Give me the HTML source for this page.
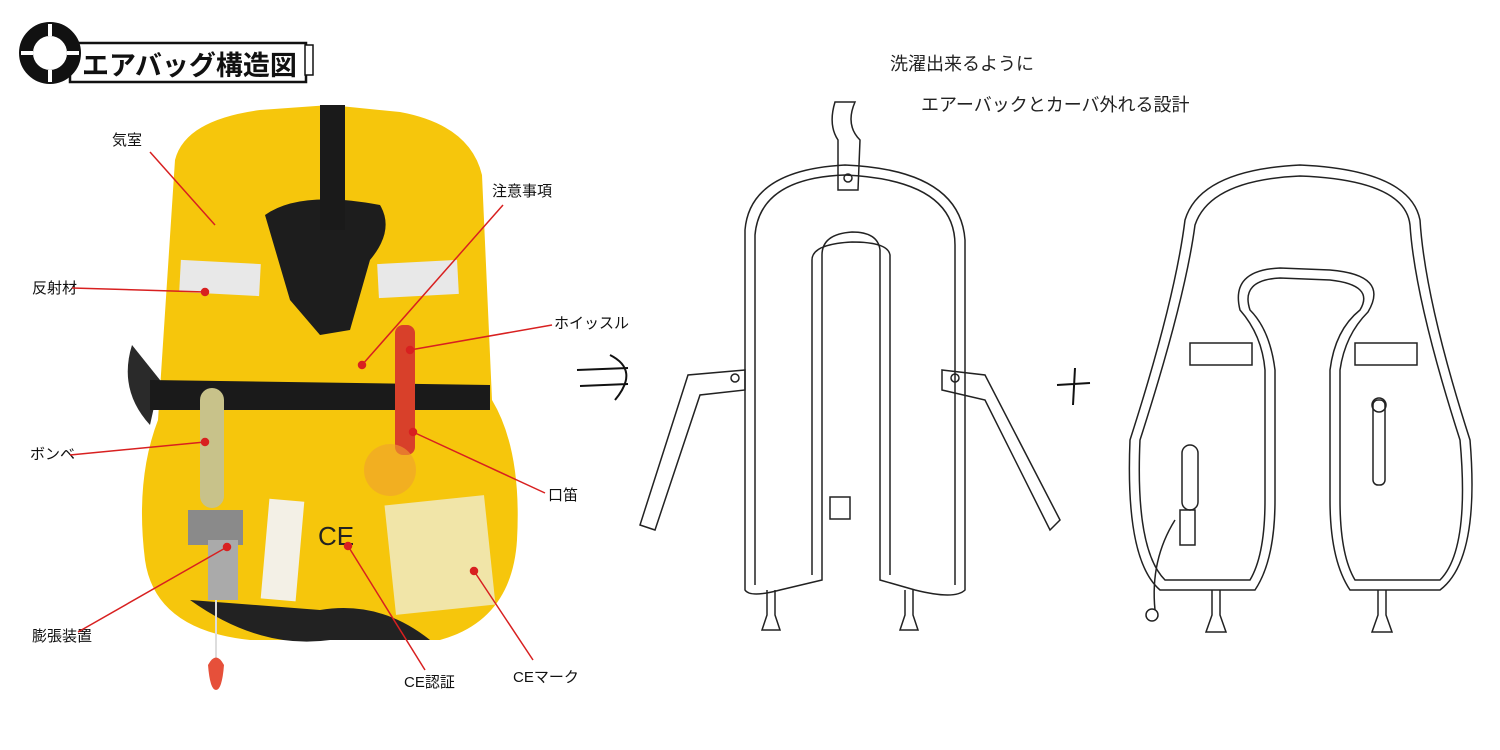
<!DOCTYPE html>
<html><head><meta charset="utf-8"><style>
html,body{margin:0;padding:0;background:#fff;}
svg{display:block}
text{font-family:"Liberation Sans","Noto Sans CJK JP",sans-serif;}
</style></head><body>
<svg width="1500" height="750" viewBox="0 0 1500 750" xmlns="http://www.w3.org/2000/svg">
<rect x="70" y="43" width="236" height="39" fill="#fff" stroke="#111" stroke-width="2.5"/>
<circle cx="50" cy="53" r="24" fill="none" stroke="#111" stroke-width="14"/>
<g stroke="#fff" stroke-width="4"><line x1="50" y1="24" x2="50" y2="36"/><line x1="50" y1="70" x2="50" y2="82"/><line x1="21" y1="53" x2="33" y2="53"/><line x1="67" y1="53" x2="79" y2="53"/></g>
<rect x="305" y="45" width="8" height="30" fill="#fff" stroke="#111" stroke-width="1.5"/>
<text x="82" y="75" font-size="27" font-weight="bold" fill="#111" font-family="'Noto Serif CJK SC','Noto Sans CJK JP',serif">エアバッグ構造図</text>

<path d="M175 160 Q185 120 260 110 L330 105 L400 112 Q470 125 482 175 L492 400 Q522 450 517 540 Q512 620 440 640 L250 640 Q155 630 145 560 Q135 480 158 420 Z" fill="#f6c60c"/>
<path d="M265 215 Q300 190 380 205 Q395 230 370 260 L350 330 L320 335 L290 300 Z" fill="#1d1d1d"/>
<path d="M320 105 L345 105 L345 230 L320 230 Z" fill="#1a1a1a"/>
<path d="M132 345 Q118 390 150 425 L160 380 Z" fill="#2a2a2a"/>
<path d="M150 380 L490 385 L490 410 L150 410 Z" fill="#1a1a1a"/>
<path d="M190 600 Q260 650 330 640 L430 640 Q380 600 320 610 Z" fill="#222"/>
<rect x="180" y="262" width="80" height="32" fill="#e8e8e8" transform="rotate(3 220 278)"/>
<rect x="378" y="262" width="80" height="34" fill="#e8e8e8" transform="rotate(-3 418 279)"/>
<rect x="200" y="388" width="24" height="120" rx="12" fill="#c8c28a"/>
<rect x="395" y="325" width="20" height="130" rx="8" fill="#d8402a"/>
<circle cx="390" cy="470" r="26" fill="#f0a030" opacity="0.6"/>
<rect x="188" y="510" width="55" height="35" fill="#8a8a8a"/>
<rect x="208" y="540" width="30" height="60" fill="#aaa"/>
<rect x="265" y="500" width="35" height="100" fill="#f3f0e6" transform="rotate(5 282 550)"/>
<rect x="390" y="500" width="100" height="110" fill="#f1e5a8" transform="rotate(-6 440 555)"/>
<line x1="216" y1="600" x2="216" y2="665" stroke="#ddd" stroke-width="2"/>
<path d="M208 665 Q216 650 224 665 Q222 690 216 690 Q210 690 208 665 Z" fill="#e6503a"/>
<text x="318" y="545" font-size="26" fill="#222">CE</text>

<g font-size="15" fill="#111">
<text x="112" y="145">気室</text>
<text x="32" y="293">反射材</text>
<text x="30" y="459">ボンベ</text>
<text x="32" y="641">膨張装置</text>
<text x="492" y="196">注意事項</text>
<text x="554" y="328">ホイッスル</text>
<text x="548" y="500">口笛</text>
<text x="404" y="687">CE認証</text>
<text x="513" y="682">CEマーク</text>
</g>
<g stroke="#d82020" stroke-width="1.5" fill="#d82020">
<line x1="150" y1="152" x2="215" y2="225"/>
<line x1="72" y1="288" x2="205" y2="292"/><circle cx="205" cy="292" r="3.5"/>
<line x1="70" y1="455" x2="205" y2="442"/><circle cx="205" cy="442" r="3.5"/>
<line x1="78" y1="632" x2="227" y2="547"/><circle cx="227" cy="547" r="3.5"/>
<line x1="503" y1="205" x2="362" y2="365"/><circle cx="362" cy="365" r="3.5"/>
<line x1="552" y1="325" x2="410" y2="350"/><circle cx="410" cy="350" r="3.5"/>
<line x1="545" y1="493" x2="413" y2="432"/><circle cx="413" cy="432" r="3.5"/>
<line x1="425" y1="670" x2="348" y2="546"/><circle cx="348" cy="546" r="3.5"/>
<line x1="533" y1="660" x2="474" y2="571"/><circle cx="474" cy="571" r="3.5"/>
</g>

<g stroke="#111" stroke-width="2" fill="none">
<path d="M577 370 L628 368 M580 386 L628 384 M610 355 Q640 370 615 400"/>
<path d="M1057 385 L1090 383 M1075 368 L1073 405"/>
</g>
<g font-size="18" fill="#222" font-family="'Noto Serif CJK SC','Noto Serif CJK JP',serif">
<text x="890" y="70">洗濯出来るように</text>
<text x="921" y="111">エアーバックとカーバ外れる設計</text>
</g>

<g stroke="#222" stroke-width="1.5" fill="none">
<path d="M835 102 L855 102 Q845 125 860 140 L858 190 L838 190 L838 140 Q828 125 835 102 Z"/>
<circle cx="848" cy="178" r="4"/>
<path d="M745 590 L745 230 Q750 170 845 165 Q960 170 965 240 L965 590 Q955 600 915 590 L880 580 L880 250 Q878 232 852 232 Q822 234 822 255 L822 580 L780 590 Q750 598 745 590 Z"/>
<path d="M755 585 L755 235 Q760 178 845 175 Q955 180 955 245 L955 585 M890 575 L890 255 Q888 242 852 242 Q812 244 812 260 L812 575"/>
<path d="M745 370 L688 375 L640 525 L655 530 L700 395 L745 390 Z"/><circle cx="735" cy="378" r="4"/>
<path d="M942 370 L985 375 L1060 520 L1050 530 L985 400 L942 390 Z"/><circle cx="955" cy="378" r="4"/>
<rect x="830" y="497" width="20" height="22"/>
<path d="M767 590 L767 615 L762 630 L780 630 L775 615 L775 590 M905 590 L905 615 L900 630 L918 630 L913 615 L913 590"/>
</g>
<g stroke="#222" stroke-width="1.5" fill="none">
<path d="M1185 220 Q1200 170 1300 165 Q1410 170 1420 220 Q1425 300 1470 440 Q1480 560 1440 590 L1350 590 Q1330 560 1330 500 L1330 370 Q1335 330 1360 310 Q1375 285 1330 280 L1280 278 Q1240 280 1250 310 Q1270 330 1275 370 L1275 500 Q1275 560 1255 590 L1160 590 Q1125 560 1130 440 Q1175 300 1185 220 Z"/>
<path d="M1195 225 Q1210 180 1300 176 Q1405 180 1410 225 Q1415 300 1460 440 Q1470 550 1440 580 L1355 580 Q1340 555 1340 500 L1340 370 Q1345 335 1368 312 Q1390 275 1330 270 L1280 268 Q1230 270 1240 310 Q1262 335 1265 370 L1265 500 Q1265 555 1250 580 L1165 580 Q1135 550 1140 440 Q1185 300 1195 225 Z"/>
<rect x="1190" y="343" width="62" height="22"/><rect x="1355" y="343" width="62" height="22"/>
<rect x="1182" y="445" width="16" height="65" rx="8"/>
<path d="M1180 510 L1195 510 L1195 545 L1180 545 Z M1175 520 Q1150 560 1155 610"/><circle cx="1152" cy="615" r="6"/>
<rect x="1373" y="400" width="12" height="85" rx="5"/><circle cx="1379" cy="405" r="7"/>
<path d="M1212 590 L1212 615 L1206 632 L1226 632 L1220 615 L1220 590 M1378 590 L1378 615 L1372 632 L1392 632 L1386 615 L1386 590"/>
</g>
</svg>
</body></html>
